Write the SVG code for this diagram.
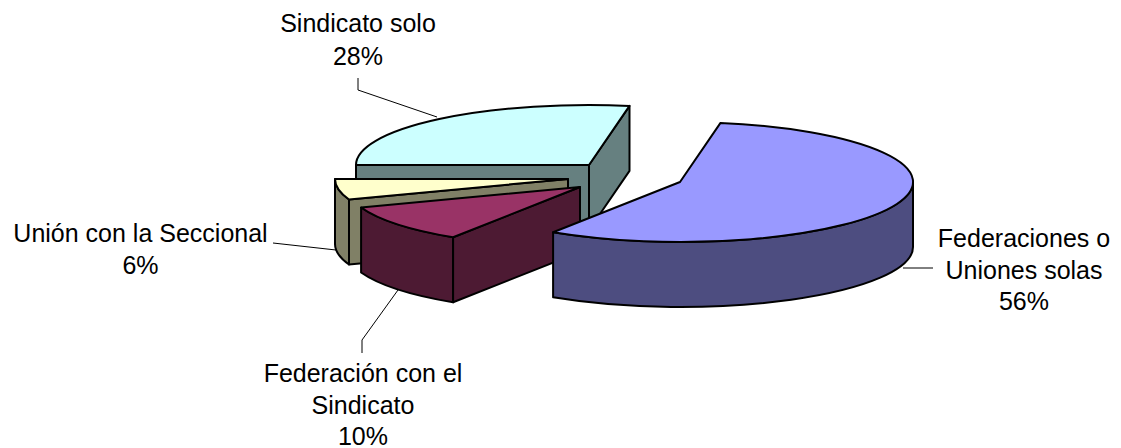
<svg xmlns="http://www.w3.org/2000/svg" width="1121" height="448" viewBox="0 0 1121 448">
<style>
.s{stroke:#000;stroke-width:2;stroke-linejoin:round}
.lead{fill:none;stroke:#000;stroke-width:1}
text{font-family:"Liberation Sans",Arial,sans-serif;font-size:25px;fill:#000;text-anchor:middle}
</style>
<rect width="1121" height="448" fill="#fff"/>
<g id="slice-sindicato-solo">
<path class="s" fill="#668080" d="M589 165 L356 165 L356 230 L589 230 Z"/>
<path class="s" fill="#668080" d="M589 165 L629.5 105.9 L629.5 170.9 L589 230 Z"/>
<path class="s" fill="#CCFFFF" d="M589 165 L356 165 A233 60 0 0 1 629.5 105.9 Z"/>
</g>
<g id="slice-union-seccional">
<path class="s" fill="#808066" d="M349 199.5 A233 60 0 0 1 335 179 L335 244 A233 60 0 0 0 349 264.5 Z"/>
<path class="s" fill="#808066" d="M568 179 L349 199.5 L349 264.5 L568 244 Z"/>
<path class="s" fill="#FFFFCC" d="M568 179 L349 199.5 A233 60 0 0 1 335 179 Z"/>
</g>
<g id="slice-federacion-sindicato">
<path class="s" fill="#4D1A33" d="M453.1 237.3 A233 60 0 0 1 361.1 207.5 L361.1 272.5 A233 60 0 0 0 453.1 302.3 Z"/>
<path class="s" fill="#4D1A33" d="M580 187 L453.1 237.3 L453.1 302.3 L580 252 Z"/>
<path class="s" fill="#993366" d="M580 187 L453.1 237.3 A233 60 0 0 1 361.1 207.5 Z"/>
</g>
<g id="slice-federaciones-uniones">
<path class="s" fill="#4D4D80" d="M913 182 A233 60 0 0 1 553.1 232.3 L553.1 297.3 A233 60 0 0 0 913 247 Z"/>
<path class="s" fill="#9999FF" d="M680 182 L720.5 122.9 A233 60 0 1 1 553.1 232.3 Z"/>
</g>
<g id="connectors">
<path class="lead" d="M358 78 L358 90 L437 117"/>
<path class="lead" d="M273 243 L336 250"/>
<path class="lead" d="M362 353 L362 340 L398 290"/>
<path class="lead" d="M903 268 L933 268"/>
</g>
<g id="label-sindicato-solo">
<text x="358" y="32">Sindicato solo</text>
<text x="358" y="64.5">28%</text>
</g>
<g id="label-union-seccional">
<text x="140.5" y="242">Unión con la Seccional</text>
<text x="140.5" y="274">6%</text>
</g>
<g id="label-federacion-sindicato">
<text x="363" y="382">Federación con el</text>
<text x="363" y="413.5">Sindicato</text>
<text x="363" y="445">10%</text>
</g>
<g id="label-federaciones-uniones">
<text x="1024" y="247">Federaciones o</text>
<text x="1024" y="278.5">Uniones solas</text>
<text x="1024" y="310">56%</text>
</g>
</svg>
